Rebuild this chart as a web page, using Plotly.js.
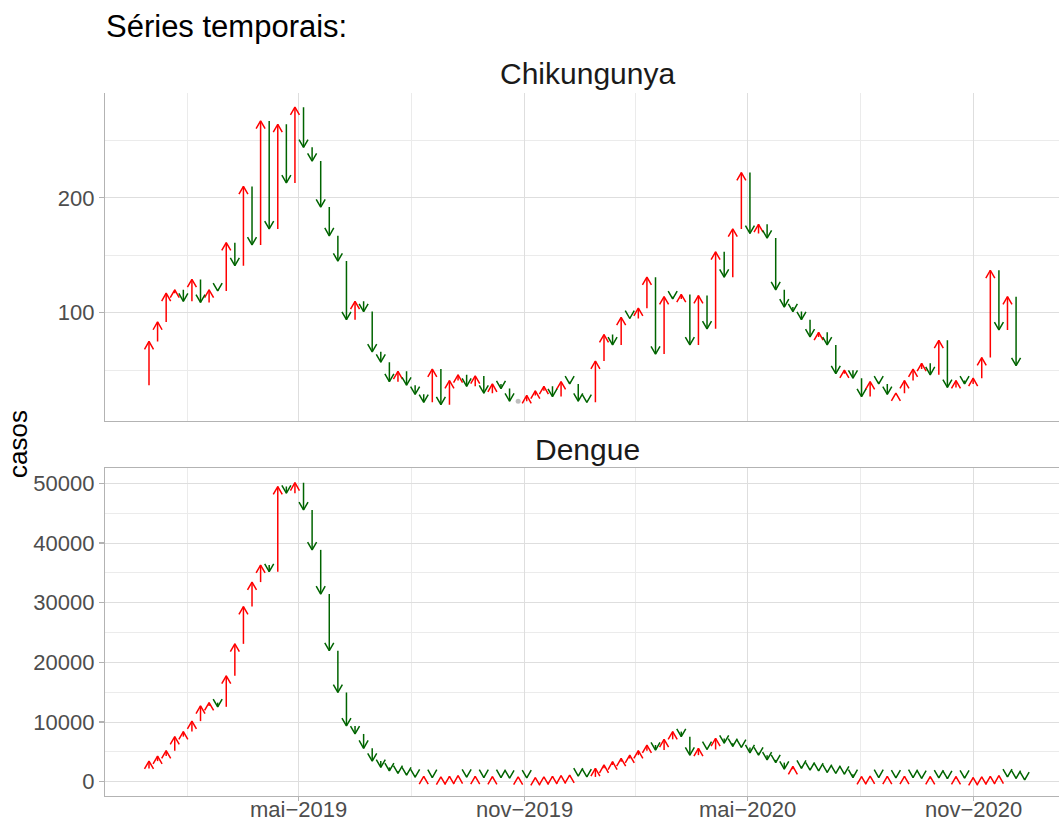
<!DOCTYPE html>
<html><head><meta charset="utf-8">
<script src="https://cdn.plot.ly/plotly-3.0.1.min.js"></script>
<style>html,body{margin:0;padding:0;background:#fff;overflow:hidden}</style>
</head><body>
<div id="chart" style="width:1059px;height:823px"></div>
<script>
// Semanas epidemiológicas (datas de início)
const semanas = ['2018-12-30','2019-01-06','2019-01-13','2019-01-20','2019-01-27','2019-02-03','2019-02-10','2019-02-17','2019-02-24','2019-03-03','2019-03-10','2019-03-17','2019-03-24','2019-03-31','2019-04-07','2019-04-14','2019-04-21','2019-04-28','2019-05-05','2019-05-12','2019-05-19','2019-05-26','2019-06-02','2019-06-09','2019-06-16','2019-06-23','2019-06-30','2019-07-07','2019-07-14','2019-07-21','2019-07-28','2019-08-04','2019-08-11','2019-08-18','2019-08-25','2019-09-01','2019-09-08','2019-09-15','2019-09-22','2019-09-29','2019-10-06','2019-10-13','2019-10-20','2019-10-27','2019-11-03','2019-11-10','2019-11-17','2019-11-24','2019-12-01','2019-12-08','2019-12-15','2019-12-22','2019-12-29','2020-01-05','2020-01-12','2020-01-19','2020-01-26','2020-02-02','2020-02-09','2020-02-16','2020-02-23','2020-03-01','2020-03-08','2020-03-15','2020-03-22','2020-03-29','2020-04-05','2020-04-12','2020-04-19','2020-04-26','2020-05-03','2020-05-10','2020-05-17','2020-05-24','2020-05-31','2020-06-07','2020-06-14','2020-06-21','2020-06-28','2020-07-05','2020-07-12','2020-07-19','2020-07-26','2020-08-02','2020-08-09','2020-08-16','2020-08-23','2020-08-30','2020-09-06','2020-09-13','2020-09-20','2020-09-27','2020-10-04','2020-10-11','2020-10-18','2020-10-25','2020-11-01','2020-11-08','2020-11-15','2020-11-22','2020-11-29','2020-12-06','2020-12-13'];

// Casos semanais; o primeiro valor é a semana anterior (origem da primeira seta)
const chikungunya = [37,
  75, 92, 117, 120, 110, 129, 109, 120, 119, 161,
  141, 210, 159, 267, 173, 264, 213, 279, 244, 232,
  192, 167, 145, 94, 110, 101, 66, 57, 40, 49,
  37, 29, 22, 51, 20, 41, 46, 36, 45, 30,
  38, 34, 23, 23, 28, 32, 36, 27, 40, 38,
  23, 22, 58, 81, 72, 96, 95, 104, 131, 64,
  114, 112, 116, 72, 115, 86, 153, 131, 173, 222,
  169, 177, 165, 120, 105, 101, 94, 79, 83, 72,
  47, 50, 43, 27, 40, 38, 29, 30, 41, 51,
  56, 46, 76, 35, 41, 38, 43, 61, 137, 85,
  114, 54];

const dengue = [2200,
  3450, 4300, 5200, 7550, 8400, 10150, 12700, 13250, 12550, 17750,
  23100, 29350, 33450, 36300, 35200, 49450, 48350, 50100, 45550, 38850,
  31450, 21950, 14950, 9350, 8000, 5600, 3450, 2400, 1800, 1400,
  1100, 750, 900, 700, 800, 900, 1000, 750, 900, 700,
  850, 700, 600, 800, 650, 700, 800, 900, 1000, 1100,
  950, 800, 2250, 2800, 3350, 3900, 4450, 5200, 6150, 5300,
  7100, 8400, 7550, 4450, 5600, 5400, 7250, 6450, 5900, 5750,
  4850, 4450, 3650, 3200, 2100, 2550, 2250, 1950, 1800, 1550,
  1400, 1250, 700, 850, 950, 700, 900, 650, 900, 700,
  550, 850, 650, 500, 850, 600, 700, 800, 900, 1000,
  800, 550, 300];

const xTickVals = ['2019-05-01', '2019-11-01', '2020-05-01', '2020-11-01'];
const xTickText = ['mai\u22122019', 'nov\u22122019', 'mai\u22122020', 'nov\u22122020'];
const xMinorVals = ['2019-01-30 12:00', '2019-08-01', '2020-01-31', '2020-08-01'];

const chikTickVals = [100, 200];
const chikTickText = ['100', '200'];
const chikMinorVals = [50, 150, 250];

const dengTickVals = [0, 10000, 20000, 30000, 40000, 50000];
const dengTickText = ['0', '10000', '20000', '30000', '40000', '50000'];
const dengMinorVals = [5000, 15000, 25000, 35000, 45000];

const corSobe = '#FF0000';
const corDesce = '#006400';
const corIgual = '#BEBEBE';

// ---- geometry of the plot area (pixels) ----
const W = 954, H = 703, L = 105, T = 93, B = 27;
const xRange = ['2018-11-24 03:00', '2021-01-10 00:00'];
const yDomC = [0.5339, 1], yRangeC = [6.06, 291.3];
const yDomD = [0, 0.4661], yRangeD = [-2397, 52514];

function parseD(s) {
  const p = s.split(' ');
  const d = p[0].split('-').map(Number);
  let h = 0, m = 0;
  if (p[1]) { const t = p[1].split(':').map(Number); h = t[0]; m = t[1]; }
  return Date.UTC(d[0], d[1] - 1, d[2], h, m);
}
function fmt(ms) { return new Date(ms).toISOString().slice(0, 19).replace('T', ' '); }

const msPerPx = (parseD(xRange[1]) - parseD(xRange[0])) / W;
const HEAD_HALF_W = 4.5, HEAD_LEN = 7.8;   // arrowhead size in px (30° open arrow)

function setas(vals, yDom, yRange, xa, ya) {
  const unitsPerPx = (yRange[1] - yRange[0]) / ((yDom[1] - yDom[0]) * H);
  const hx = HEAD_HALF_W * msPerPx, hy = HEAD_LEN * unitsPerPx;
  const up = {x: [], y: []}, dn = {x: [], y: []}, zx = [], zy = [];
  for (let i = 1; i < vals.length; i++) {
    const d = semanas[i - 1], ms = parseD(d);
    const ant = vals[i - 1], cur = vals[i];
    if (cur === ant) { zx.push(d); zy.push(cur); continue; }
    const s = cur > ant ? 1 : -1;
    const t = s > 0 ? up : dn;
    t.x.push(d, d, null, fmt(ms - hx), d, fmt(ms + hx), null);
    t.y.push(ant, cur, null, cur - s * hy, cur, cur - s * hy, null);
  }
  const base = {type: 'scatter', mode: 'lines', xaxis: xa, yaxis: ya, hoverinfo: 'skip', showlegend: false, connectgaps: false};
  return [
    Object.assign({}, base, {x: up.x, y: up.y, line: {color: corSobe, width: 1.5}}),
    Object.assign({}, base, {x: dn.x, y: dn.y, line: {color: corDesce, width: 1.5}}),
    {type: 'scatter', mode: 'markers', x: zx, y: zy, xaxis: xa, yaxis: ya,
     marker: {color: corIgual, size: 5}, hoverinfo: 'skip', showlegend: false}
  ];
}

const traces = [].concat(
  setas(chikungunya, yDomC, yRangeC, 'x', 'y'),
  setas(dengue, yDomD, yRangeD, 'x2', 'y2')
);

function px2x(p) { return (p - L) / W; }
function py2y(p) { return (T + H - p) / H; }

const FONT = 'Liberation Sans, Arial, Helvetica, sans-serif';
const tickFont = {family: FONT, size: 22, color: '#4D4D4D'};
const gridMaj = '#DEDEDE', gridMin = '#EBEBEB', lineCol = '#B3B3B3';

const xCommon = {
  type: 'date', range: xRange,
  tickmode: 'array', tickvals: xTickVals, ticktext: xTickText,
  showgrid: true, gridcolor: gridMaj, gridwidth: 1,
  minor: {tickmode: 'array', tickvals: xMinorVals, showgrid: true, gridcolor: gridMin, gridwidth: 1, ticks: ''},
  zeroline: false, showline: true, linecolor: lineCol, linewidth: 1.1,
  showticklabels: false, tickfont: tickFont
};

const layout = {
  width: 1059, height: 823,
  margin: {l: L, r: 0, t: T, b: B, pad: 0},
  paper_bgcolor: '#FFFFFF', plot_bgcolor: '#FFFFFF',
  showlegend: false, hovermode: false,
  xaxis: Object.assign({}, xCommon, {anchor: 'y', domain: [0, 1], ticks: ''}),
  xaxis2: Object.assign({}, xCommon, {anchor: 'y2', domain: [0, 1], matches: 'x', ticks: 'outside', ticklen: 4, tickwidth: 1.1, tickcolor: lineCol, mirror: true}),
  yaxis: {
    anchor: 'x', domain: yDomC, range: yRangeC,
    tickmode: 'array', tickvals: chikTickVals, ticktext: chikTickText,
    showgrid: true, gridcolor: gridMaj, gridwidth: 1,
    minor: {tickmode: 'array', tickvals: chikMinorVals, showgrid: true, gridcolor: gridMin, gridwidth: 1, ticks: ''},
    zeroline: false, showline: true, linecolor: lineCol, linewidth: 1.1,
    ticks: 'outside', ticklen: 5, tickwidth: 1.1, tickcolor: lineCol, tickfont: tickFont
  },
  yaxis2: {
    anchor: 'x2', domain: yDomD, range: yRangeD,
    tickmode: 'array', tickvals: dengTickVals, ticktext: dengTickText,
    showgrid: true, gridcolor: gridMaj, gridwidth: 1,
    minor: {tickmode: 'array', tickvals: dengMinorVals, showgrid: true, gridcolor: gridMin, gridwidth: 1, ticks: ''},
    zeroline: false, showline: true, linecolor: lineCol, linewidth: 1.1,
    ticks: 'outside', ticklen: 5, tickwidth: 1.1, tickcolor: lineCol, tickfont: tickFont
  },
  annotations: [].concat(
    xTickVals.map((v, i) => ({text: xTickText[i], xref: 'x2', yref: 'paper', x: v, y: py2y(809),
      xanchor: 'center', yanchor: 'middle', showarrow: false, font: tickFont})),
    [
    {text: 'Séries temporais:', xref: 'paper', yref: 'paper', x: px2x(104), y: py2y(27),
     xanchor: 'left', yanchor: 'middle', showarrow: false, font: {family: FONT, size: 31, color: '#000000'}},
    {text: 'Chikungunya', xref: 'paper', yref: 'paper', x: px2x(587), y: py2y(73),
     xanchor: 'center', yanchor: 'middle', showarrow: false, font: {family: FONT, size: 30, color: '#1A1A1A'}},
    {text: 'Dengue', xref: 'paper', yref: 'paper', x: px2x(587), y: py2y(449),
     xanchor: 'center', yanchor: 'middle', showarrow: false, font: {family: FONT, size: 30, color: '#1A1A1A'}},
    {text: 'casos', xref: 'paper', yref: 'paper', x: px2x(18), y: py2y(444), textangle: -90,
     xanchor: 'center', yanchor: 'middle', showarrow: false, font: {family: FONT, size: 26, color: '#000000'}}
  ])
};

Plotly.newPlot('chart', traces, layout, {displayModeBar: false, staticPlot: true});
</script>
</body></html>
